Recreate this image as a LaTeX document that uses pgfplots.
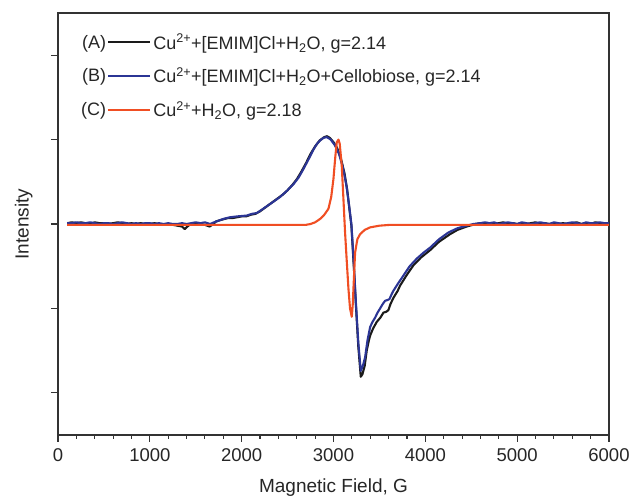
\documentclass[border=0pt]{standalone}
\usepackage{fontspec}
\setmainfont{Liberation Sans}
\usepackage{pgfplots}
\pgfplotsset{compat=1.18}
\definecolor{cA}{HTML}{1A1A1A}
\definecolor{cB}{HTML}{2B3595}
\definecolor{cC}{HTML}{F04E23}
\definecolor{axc}{HTML}{333333}
\begin{document}
\begin{tikzpicture}
\begin{axis}[
  at={(0,0)}, anchor=south west,
  scale only axis, width=551pt, height=422pt,
  xmin=0, xmax=6000, ymin=-2.5, ymax=2.5,
  axis line style={axc, line width=1.3pt},
  xtick={0,1000,2000,3000,4000,5000,6000},
  minor x tick num=4,
  ytick={-2,-1,0,1,2}, yticklabels={},
  tick align=outside, xtick pos=bottom, ytick pos=left,
  major tick length=7pt, minor tick length=4pt,
  tick style={axc, line width=1.1pt},
  /pgf/number format/assume math mode=true,
  /pgf/number format/1000 sep={},
  ticklabel style={font=\fontsize{18.5}{21}\selectfont, text=black!85},
  xticklabel style={yshift=-3pt},
  xlabel={Magnetic Field, G},
  ylabel={Intensity},
  label style={font=\fontsize{19}{22}\selectfont, text=black!85},
  xlabel style={yshift=-10pt},
  ylabel style={yshift=8pt},
  legend style={at={(0.04,0.955)}, anchor=north west, draw=none, fill=none,
    inner sep=0pt, row sep=13pt, font=\fontsize{18}{20}\selectfont,
    text=black!85},
  legend cell align=left,
  every axis plot/.append style={line width=2.1pt, line join=round},
]
\addplot[cA, legend image code/.code={\node[anchor=east, inner sep=1pt, text=black!85] at (0,0) {(A)}; \draw[cA, line width=2pt] (0pt,0pt) -- (42pt,0pt);}] coordinates {
(100,0.01)(150,0.02)(200,0.01)(250,0.02)(300,0.01)(350,0.0)(400,0.02)(450,0.01)(500,0.01)(550,0.0)(600,0.01)(650,0.02)(700,0.01)(750,0.0)(800,0.01)(850,0.0)(900,0.01)(950,0.0)(1000,0.0)(1050,0.01)(1100,0.0)(1150,-0.01)(1200,0.0)(1250,-0.01)(1300,-0.02)(1350,-0.03)(1380,-0.06)(1420,-0.02)(1450,0.0)(1500,0.01)(1550,0.0)(1600,-0.01)(1650,-0.03)(1680,-0.01)(1720,0.03)(1780,0.05)(1850,0.07)(1900,0.07)(1950,0.08)(2000,0.09)(2050,0.09)(2100,0.11)(2150,0.12)(2200,0.15)(2250,0.19)(2300,0.23)(2350,0.27)(2400,0.31)(2450,0.35)(2500,0.40)(2550,0.46)(2600,0.53)(2650,0.62)(2700,0.72)(2750,0.83)(2800,0.92)(2850,0.99)(2900,1.03)(2930,1.04)(2960,1.02)(3000,0.97)(3040,0.90)(3080,0.78)(3120,0.60)(3150,0.40)(3175,0.16)(3195,-0.02)(3220,-0.48)(3245,-0.98)(3270,-1.45)(3297,-1.81)(3315,-1.78)(3340,-1.68)(3362,-1.50)(3385,-1.38)(3400,-1.32)(3430,-1.24)(3471,-1.16)(3510,-1.11)(3544,-1.05)(3575,-1.04)(3598,-1.02)(3620,-0.95)(3650,-0.88)(3700,-0.79)(3725,-0.73)(3800,-0.60)(3870,-0.49)(3950,-0.40)(4052,-0.31)(4150,-0.21)(4270,-0.12)(4350,-0.07)(4450,-0.03)(4550,0.0)(4600,0.01)(4650,0.0)(4700,0.01)(4750,0.0)(4800,0.01)(4850,0.02)(4900,0.0)(4950,0.01)(5000,0.0)(5050,0.01)(5100,0.0)(5150,0.01)(5200,0.02)(5250,0.0)(5300,0.01)(5350,0.0)(5400,0.01)(5450,0.0)(5500,0.01)(5550,0.0)(5600,0.01)(5650,0.02)(5700,0.0)(5750,0.01)(5800,0.0)(5850,0.02)(5900,0.01)(5950,0.0)(6000,0.01)
};
\addlegendentry{Cu\textsuperscript{2+}+[EMIM]Cl+H\textsubscript{2}O, g=2.14}
\addplot[cB, legend image code/.code={\node[anchor=east, inner sep=1pt, text=black!85] at (0,0) {(B)}; \draw[cB, line width=2pt] (0pt,0pt) -- (42pt,0pt);}] coordinates {
(100,0.01)(150,0.01)(200,0.02)(250,0.01)(300,0.01)(350,0.02)(400,0.01)(450,0.0)(500,0.01)(550,0.01)(600,0.0)(650,0.01)(700,0.02)(750,0.01)(800,0.0)(850,0.01)(900,0.0)(950,0.01)(1000,0.01)(1050,0.0)(1100,0.01)(1150,0.0)(1200,0.01)(1250,0.0)(1300,0.0)(1350,0.01)(1400,0.0)(1450,0.01)(1500,0.02)(1550,0.01)(1600,0.02)(1656,0.0)(1700,0.02)(1750,0.04)(1800,0.06)(1874,0.08)(1950,0.09)(2055,0.10)(2110,0.12)(2164,0.13)(2220,0.17)(2273,0.21)(2340,0.26)(2418,0.32)(2490,0.39)(2563,0.47)(2620,0.55)(2672,0.65)(2730,0.77)(2781,0.88)(2820,0.95)(2854,0.99)(2890,1.02)(2927,1.03)(2970,1.00)(3017,0.93)(3060,0.83)(3100,0.68)(3140,0.46)(3170,0.22)(3195,0.0)(3220,-0.45)(3245,-0.95)(3270,-1.40)(3297,-1.74)(3320,-1.68)(3344,-1.58)(3370,-1.38)(3399,-1.22)(3425,-1.16)(3453,-1.11)(3480,-1.05)(3508,-1.00)(3535,-0.95)(3562,-0.91)(3590,-0.90)(3609,-0.89)(3630,-0.84)(3653,-0.79)(3700,-0.71)(3762,-0.61)(3830,-0.50)(3907,-0.41)(3980,-0.34)(4052,-0.28)(4150,-0.18)(4252,-0.10)(4350,-0.05)(4450,-0.02)(4524,0.0)(4600,0.01)(4650,0.02)(4700,0.01)(4750,0.02)(4800,0.0)(4850,0.01)(4900,0.02)(4950,0.01)(5000,0.0)(5050,0.02)(5100,0.01)(5150,0.0)(5200,0.01)(5250,0.02)(5300,0.01)(5350,0.0)(5400,0.02)(5450,0.01)(5500,0.0)(5550,0.01)(5600,0.02)(5650,0.01)(5700,0.0)(5750,0.02)(5800,0.01)(5850,0.01)(5900,0.02)(5950,0.01)(6000,0.01)
};
\addlegendentry{Cu\textsuperscript{2+}+[EMIM]Cl+H\textsubscript{2}O+Cellobiose, g=2.14}
\addplot[cC, legend image code/.code={\node[anchor=east, inner sep=1pt, text=black!85] at (0,0) {(C)}; \draw[cC, line width=2pt] (0pt,0pt) -- (42pt,0pt);}] coordinates {
(100,-0.01)(500,-0.01)(1000,-0.01)(1500,-0.01)(2000,-0.01)(2500,-0.01)(2700,-0.01)(2750,0.0)(2800,0.02)(2854,0.06)(2900,0.11)(2945,0.18)(2975,0.32)(2999,0.53)(3020,0.80)(3036,0.97)(3054,1.00)(3068,0.95)(3090,0.69)(3108,0.30)(3126,-0.10)(3145,-0.45)(3163,-0.77)(3180,-1.00)(3199,-1.10)(3210,-0.95)(3220,-0.70)(3235,-0.34)(3260,-0.18)(3290,-0.12)(3340,-0.07)(3399,-0.04)(3500,-0.02)(3617,-0.01)(4000,-0.01)(5000,-0.01)(6000,-0.01)
};
\addlegendentry{Cu\textsuperscript{2+}+H\textsubscript{2}O, g=2.18}
\end{axis}
\pgfresetboundingbox
\useasboundingbox (-58pt,-65pt) rectangle (575pt,435pt);
\end{tikzpicture}
\end{document}
